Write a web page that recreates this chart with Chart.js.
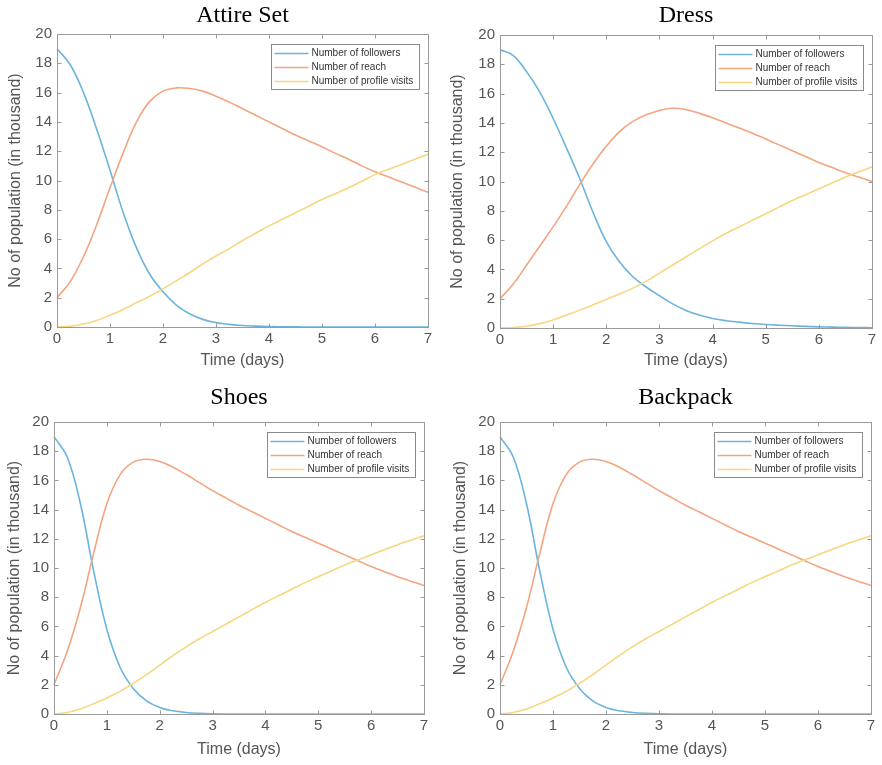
<!DOCTYPE html>
<html>
<head>
<meta charset="utf-8">
<script src="https://cdn.jsdelivr.net/npm/chart.js@4/dist/chart.umd.min.js"></script>
<style>
  html, body { margin: 0; padding: 0; background: #ffffff; }
  body { width: 882px; height: 765px; position: relative; overflow: hidden; }
  canvas { position: absolute; }
</style>
</head>
<body>
<canvas id="c1" width="441" height="380" style="left:0px;top:0px"></canvas>
<canvas id="c2" width="441" height="380" style="left:441px;top:0px"></canvas>
<canvas id="c3" width="441" height="385" style="left:0px;top:380px"></canvas>
<canvas id="c4" width="441" height="385" style="left:441px;top:380px"></canvas>
<script>
// ---------------- DATA ----------------
const days = [0, 0.25, 0.5, 0.75, 1, 1.25, 1.5, 1.75, 2, 2.25, 2.5, 2.75, 3, 3.25, 3.5, 3.75,
              4, 4.25, 4.5, 4.75, 5, 5.25, 5.5, 5.75, 6, 6.25, 6.5, 6.75, 7];

const seriesNames = ['Number of followers', 'Number of reach', 'Number of profile visits'];
const panelTitles = ['Attire Set', 'Dress', 'Shoes', 'Backpack'];
const xTickValues = [0, 1, 2, 3, 4, 5, 6, 7];
const yTickValues = [0, 2, 4, 6, 8, 10, 12, 14, 16, 18, 20];
const xAxisTitle = 'Time (days)';
const yAxisTitle = 'No of population (in thousand)';

const attireFollowers = [19, 17.9, 16.0, 13.5, 10.7, 7.8, 5.4, 3.6, 2.4, 1.5, 0.9, 0.52, 0.3, 0.18, 0.1, 0.06,
                         0.03, 0.015, 0.01, 0, 0, 0, 0, 0, 0, 0, 0, 0, 0];
const attireReach     = [2.0, 3.1, 4.8, 7.0, 9.5, 11.9, 14.0, 15.4, 16.1, 16.32, 16.28, 16.1, 15.75, 15.35, 14.9, 14.45,
                         14.0, 13.55, 13.1, 12.7, 12.3, 11.85, 11.45, 11.0, 10.6, 10.25, 9.9, 9.55, 9.2];
const attireVisits    = [0, 0.05, 0.2, 0.45, 0.8, 1.2, 1.65, 2.1, 2.6, 3.15, 3.7, 4.3, 4.85, 5.35, 5.9, 6.4,
                         6.9, 7.35, 7.8, 8.25, 8.7, 9.1, 9.5, 9.95, 10.4, 10.75, 11.1, 11.45, 11.8];

const dressFollowers  = [19, 18.6, 17.5, 16.1, 14.3, 12.3, 10.2, 7.9, 5.9, 4.5, 3.5, 2.8, 2.2, 1.65, 1.2, 0.88,
                         0.65, 0.5, 0.4, 0.31, 0.24, 0.19, 0.15, 0.11, 0.08, 0.06, 0.04, 0.03, 0.02];
const dressReach      = [2.0, 3.0, 4.3, 5.6, 6.9, 8.3, 9.8, 11.2, 12.4, 13.4, 14.1, 14.55, 14.85, 15.0, 14.9, 14.65,
                         14.35, 14.0, 13.65, 13.3, 12.9, 12.5, 12.1, 11.7, 11.3, 10.95, 10.6, 10.3, 10.0];
const dressVisits     = [0, 0.03, 0.12, 0.3, 0.55, 0.88, 1.22, 1.58, 1.95, 2.32, 2.72, 3.2, 3.75, 4.3, 4.85, 5.4,
                         5.95, 6.45, 6.9, 7.35, 7.8, 8.25, 8.7, 9.1, 9.5, 9.9, 10.3, 10.65, 11.0];

const shoesFollowers  = [19, 17.6, 14.4, 9.8, 5.8, 3.2, 1.75, 0.9, 0.45, 0.22, 0.1, 0.04, 0.01, 0, 0, 0,
                         0, 0, 0, 0, 0, 0, 0, 0, 0, 0, 0, 0, 0];
const shoesReach      = [2.0, 4.3, 7.3, 11.0, 14.4, 16.4, 17.25, 17.45, 17.3, 16.9, 16.4, 15.85, 15.3, 14.8, 14.3, 13.85,
                         13.4, 12.95, 12.5, 12.1, 11.7, 11.3, 10.9, 10.5, 10.1, 9.75, 9.4, 9.1, 8.8];
const shoesVisits     = [0, 0.1, 0.35, 0.7, 1.1, 1.55, 2.1, 2.7, 3.35, 4.0, 4.6, 5.15, 5.65, 6.15, 6.65, 7.15,
                         7.65, 8.1, 8.55, 9.0, 9.4, 9.8, 10.2, 10.55, 10.9, 11.25, 11.6, 11.9, 12.2];

const backpackFollowers = [19, 17.6, 14.4, 9.8, 5.8, 3.2, 1.75, 0.9, 0.45, 0.22, 0.1, 0.04, 0.01, 0, 0, 0,
                           0, 0, 0, 0, 0, 0, 0, 0, 0, 0, 0, 0, 0];
const backpackReach     = [2.0, 4.3, 7.3, 11.0, 14.4, 16.4, 17.25, 17.45, 17.3, 16.9, 16.4, 15.85, 15.3, 14.8, 14.3, 13.85,
                           13.4, 12.95, 12.5, 12.1, 11.7, 11.3, 10.9, 10.5, 10.1, 9.75, 9.4, 9.1, 8.8];
const backpackVisits    = [0, 0.1, 0.35, 0.7, 1.1, 1.55, 2.1, 2.7, 3.35, 4.0, 4.6, 5.15, 5.65, 6.15, 6.65, 7.15,
                           7.65, 8.1, 8.55, 9.0, 9.4, 9.8, 10.2, 10.55, 10.9, 11.25, 11.6, 11.9, 12.2];

// ---------------- STYLE / LAYOUT ----------------
const lineColors = ['#6AB4DE', '#F4A47E', '#F7D67E'];
const panelLayouts = [
  { id: 'c1', yWidth: 57, xHeight: 53, padRight: 13, tTop: 1, tBottom: 4.2, yTitlePad: 6.4, xTitlePad: 9.4 },
  { id: 'c2', yWidth: 59, xHeight: 52, padRight: 10, tTop: 1, tBottom: 5.2, yTitlePad: 7.0, xTitlePad: 9.4 },
  { id: 'c3', yWidth: 54, xHeight: 51, padRight: 17, tTop: 3, tBottom: 10.2, yTitlePad: 4.7, xTitlePad: 5.4 },
  { id: 'c4', yWidth: 59, xHeight: 51, padRight: 11, tTop: 3, tBottom: 10.2, yTitlePad: 10.4, xTitlePad: 5.4 }
];
const panelSeries = [
  [attireFollowers, attireReach, attireVisits],
  [dressFollowers, dressReach, dressVisits],
  [shoesFollowers, shoesReach, shoesVisits],
  [backpackFollowers, backpackReach, backpackVisits]
];

const AXIS_COLOR = '#9a9a9a';
const TEXT_COLOR = '#555555';
const SANS = '"Liberation Sans", Arial, sans-serif';

// Box with inward ticks (MATLAB style) + legend inside the plot area
const matlabBox = {
  id: 'matlabBox',
  afterDatasetsDraw(chart) {
    const ctx = chart.ctx;
    const ca = chart.chartArea;
    const xs = chart.scales.x, ys = chart.scales.y;
    const L = Math.round(ca.left) + 0.5, R = Math.round(ca.right) + 0.5;
    const T = Math.round(ca.top) + 0.5, B = Math.round(ca.bottom) + 0.5;
    const tl = 4;
    ctx.save();
    ctx.strokeStyle = AXIS_COLOR;
    ctx.lineWidth = 1;
    ctx.strokeRect(L, T, R - L, B - T);
    ctx.beginPath();
    xs.ticks.forEach(t => {
      const px = Math.round(xs.getPixelForValue(t.value)) + 0.5;
      ctx.moveTo(px, B); ctx.lineTo(px, B - tl);
      ctx.moveTo(px, T); ctx.lineTo(px, T + tl);
    });
    ys.ticks.forEach(t => {
      const py = Math.round(ys.getPixelForValue(t.value)) + 0.5;
      ctx.moveTo(L, py); ctx.lineTo(L + tl, py);
      ctx.moveTo(R, py); ctx.lineTo(R - tl, py);
    });
    ctx.stroke();

    // legend
    const w = 148, h = 45;
    const lx = Math.round(ca.right - 9 - w) + 0.5;
    const ly = Math.round(ca.top + 10) + 0.5;
    ctx.fillStyle = '#ffffff';
    ctx.fillRect(lx, ly, w, h);
    ctx.strokeStyle = '#8a8a8a';
    ctx.strokeRect(lx, ly, w, h);
    ctx.font = '10px ' + SANS;
    ctx.textBaseline = 'middle';
    ctx.textAlign = 'left';
    chart.data.datasets.forEach((ds, i) => {
      const yy = ly + 9 + i * 14;
      ctx.strokeStyle = ds.borderColor;
      ctx.lineWidth = 1.5;
      ctx.beginPath();
      ctx.moveTo(lx + 3, yy); ctx.lineTo(lx + 37, yy);
      ctx.stroke();
      ctx.fillStyle = '#333333';
      ctx.fillText(ds.label, lx + 40, yy);
    });
    ctx.restore();
  }
};

panelLayouts.forEach((lay, p) => {
  const datasets = panelSeries[p].map((arr, i) => ({
    label: seriesNames[i],
    data: days.map((d, k) => ({ x: d, y: arr[k] })),
    borderColor: lineColors[i],
    backgroundColor: lineColors[i],
    borderWidth: 1.6,
    pointRadius: 0,
    tension: 0.4,
    fill: false,
    clip: 3,
    order: 3 - i
  }));
  new Chart(document.getElementById(lay.id), {
    type: 'line',
    data: { datasets },
    options: {
      responsive: false,
      animation: false,
      devicePixelRatio: 1,
      layout: { padding: { left: 0, right: lay.padRight, top: 0, bottom: 0 } },
      plugins: {
        legend: { display: false },
        tooltip: { enabled: false },
        title: {
          display: true,
          text: panelTitles[p],
          fullSize: false,
          color: '#000000',
          font: { family: '"Liberation Serif", "Times New Roman", serif', size: 24, weight: 'normal', lineHeight: 1.2 },
          padding: { top: lay.tTop, bottom: lay.tBottom }
        }
      },
      scales: {
        x: {
          type: 'linear',
          min: 0, max: 7,
          afterBuildTicks: s => { s.ticks = xTickValues.map(v => ({ value: v })); },
          afterFit: s => { s.height = lay.xHeight; },
          grid: { display: false, drawTicks: false },
          border: { display: false },
          ticks: { color: TEXT_COLOR, font: { family: SANS, size: 15 }, padding: 3, maxRotation: 0, autoSkip: false },
          title: { display: true, text: xAxisTitle, color: TEXT_COLOR,
                   font: { family: SANS, size: 16, lineHeight: 1.2 }, padding: { top: 0, bottom: lay.xTitlePad } }
        },
        y: {
          type: 'linear',
          min: 0, max: 20,
          afterBuildTicks: s => { s.ticks = yTickValues.map(v => ({ value: v })); },
          afterFit: s => { s.width = lay.yWidth; },
          grid: { display: false, drawTicks: false },
          border: { display: false },
          ticks: { color: TEXT_COLOR, font: { family: SANS, size: 15 }, padding: 5, autoSkip: false },
          title: { display: true, text: yAxisTitle, color: TEXT_COLOR,
                   font: { family: SANS, size: 16, lineHeight: 1.2 }, padding: { top: lay.yTitlePad, bottom: 0 } }
        }
      }
    },
    plugins: [matlabBox]
  });
});
</script>
</body>
</html>
